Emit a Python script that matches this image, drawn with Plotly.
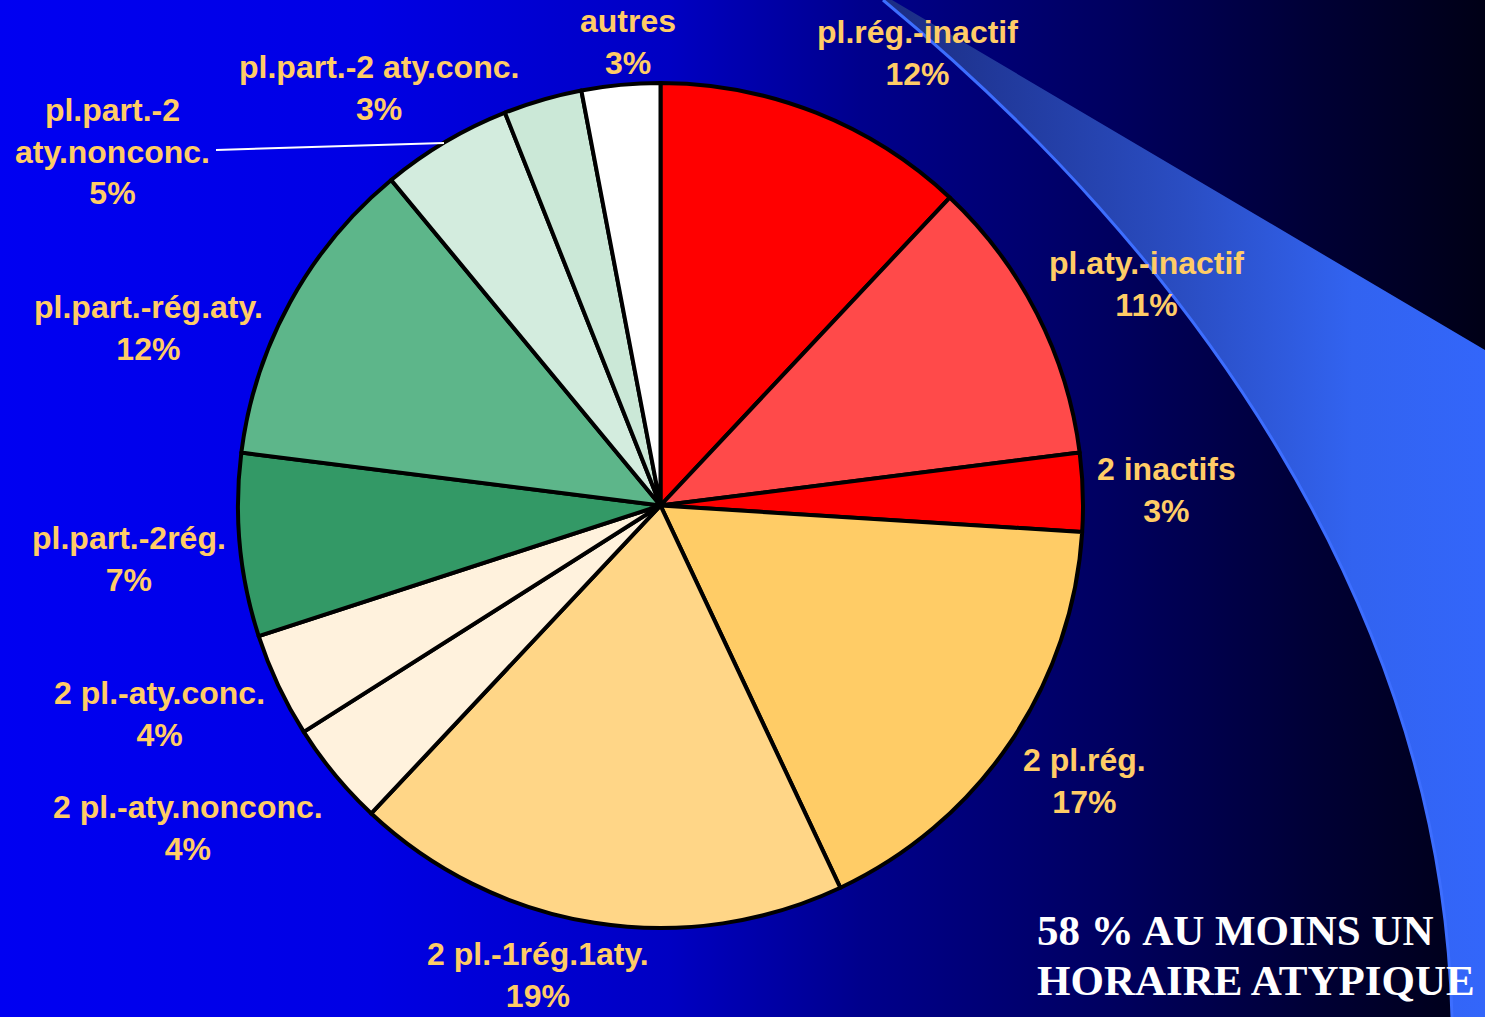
import base64
import numpy as np
import plotly.graph_objects as go

# ---------------- data ----------------
categories = [
    "pl.rég.-inactif", "pl.aty.-inactif", "2 inactifs", "2 pl.rég.",
    "2 pl.-1rég.1aty.", "2 pl.-aty.nonconc.", "2 pl.-aty.conc.",
    "pl.part.-2rég.", "pl.part.-rég.aty.", "pl.part.-2 aty.nonconc.",
    "pl.part.-2 aty.conc.", "autres",
]
shares = [12, 11, 3, 17, 19, 4, 4, 7, 12, 5, 3, 3]
summary_lines = ["58 % AU MOINS UN", "HORAIRE ATYPIQUE"]

# ---------------- styles ----------------
slice_colors = [
    "#FF0000", "#FF4A4A", "#FF0000", "#FFCC66", "#FFD687", "#FFF2DD",
    "#FFF2DD", "#339966", "#5DB68A", "#D3ECDE", "#CBE8D7", "#FFFFFF",
]
W, H = 1485, 1017
# label block centres (pixels) – layout only
label_pos = [
    (917, 53), (1146, 284), (1166, 490), (1084, 781), (538, 975), (188, 828),
    (159, 714), (129, 559), (148, 328), (113, 151), (379, 88), (628, 42),
]
wrap_first_space = {"pl.part.-2 aty.nonconc."}

# ---------------- background (gradient + swoosh) as SVG image ----------------
arc_pts = np.array([(883, 0), (927, 43), (1027, 133), (1093, 207), (1162, 266),
                    (1250, 410), (1310, 513), (1370, 620), (1422, 800), (1452, 1017)],
                   dtype=float)
# least-squares cubic Bezier through the traced edge (smooth curve)
seg = np.sqrt((np.diff(arc_pts, axis=0) ** 2).sum(axis=1))
t = np.concatenate([[0], np.cumsum(seg)]) / seg.sum()
P0, P3 = arc_pts[0], arc_pts[-1]
b0, b1, b2, b3 = (1 - t) ** 3, 3 * (1 - t) ** 2 * t, 3 * (1 - t) * t ** 2, t ** 3
A = np.stack([b1, b2], axis=1)
rhs = arc_pts - np.outer(b0, P0) - np.outer(b3, P3)
sol, *_ = np.linalg.lstsq(A, rhs, rcond=None)
P1, P2 = sol
arc_d = (f"M{P0[0]:.1f},{P0[1]:.1f} C{P1[0]:.1f},{P1[1]:.1f} "
         f"{P2[0]:.1f},{P2[1]:.1f} {P3[0]:.1f},{P3[1]:.1f}")

svg = f'''<svg xmlns="http://www.w3.org/2000/svg" width="{W}" height="{H}" viewBox="0 0 {W} {H}">
<defs>
<linearGradient id="bg" x1="0" y1="0" x2="{W}" y2="0" gradientUnits="userSpaceOnUse">
<stop offset="0" stop-color="rgb(0,0,242)"/>
<stop offset="0.25" stop-color="rgb(0,0,228)"/>
<stop offset="0.45" stop-color="rgb(0,0,195)"/>
<stop offset="0.58" stop-color="rgb(0,0,140)"/>
<stop offset="0.75" stop-color="rgb(0,0,95)"/>
<stop offset="0.88" stop-color="rgb(0,0,55)"/>
<stop offset="1" stop-color="rgb(0,0,22)"/>
</linearGradient>
<linearGradient id="sw" x1="880" y1="0" x2="1485" y2="0" gradientUnits="userSpaceOnUse">
<stop offset="0" stop-color="#1B2C82"/>
<stop offset="0.5" stop-color="#2A4DC2"/>
<stop offset="0.78" stop-color="#3263F0"/>
<stop offset="1" stop-color="#3366FA"/>
</linearGradient>
</defs>
<rect x="0" y="0" width="{W}" height="{H}" fill="url(#bg)"/>
<path d="{arc_d} L{W},{H} L{W},350 L892,0 Z" fill="url(#sw)"/>
<path d="{arc_d}" fill="none" stroke="#3D6EFF" stroke-width="3"/>
</svg>'''
uri = "data:image/svg+xml;base64," + base64.b64encode(svg.encode("utf-8")).decode("ascii")

# ---------------- figure ----------------
cx, cy, r = 660.5, 505.5, 422.5
fig = go.Figure(go.Pie(
    labels=categories, values=shares, sort=False, direction="clockwise",
    rotation=0, textinfo="none", hoverinfo="label+percent",
    marker=dict(colors=slice_colors, line=dict(color="black", width=4)),
    domain=dict(x=[(cx - r) / W, (cx + r) / W], y=[(H - cy - r) / H, (H - cy + r) / H]),
    showlegend=False,
))

total = sum(shares)
annotations = []
for cat, v, (px, py) in zip(categories, shares, label_pos):
    name = cat.replace(" ", "<br>", 1) if cat in wrap_first_space else cat
    pct = round(v / total * 100)
    annotations.append(dict(
        x=px / W, y=1 - py / H, xref="paper", yref="paper",
        xanchor="center", yanchor="middle", showarrow=False,
        text=f"{name}<br>{pct}%", align="center",
        font=dict(family="Liberation Sans, Arial, sans-serif", size=32,
                  color="#FFCC66", weight="bold"),
    ))
for line, py in zip(summary_lines, [930, 980]):
    annotations.append(dict(
        x=1035 / W, y=1 - py / H, xref="paper", yref="paper",
        xanchor="left", yanchor="middle", showarrow=False, text=line,
        font=dict(family="Liberation Serif, Times New Roman, serif", size=43,
                  color="white", weight="bold"),
    ))

fig.update_layout(
    width=W, height=H, autosize=False,
    margin=dict(l=0, r=0, t=0, b=0, pad=0),
    paper_bgcolor="#0000B0", plot_bgcolor="rgba(0,0,0,0)",
    images=[dict(source=uri, xref="paper", yref="paper", x=0, y=1,
                 sizex=1, sizey=1, xanchor="left", yanchor="top",
                 sizing="stretch", layer="below")],
    annotations=annotations,
    shapes=[dict(type="line", xref="paper", yref="paper",
                 x0=216 / W, y0=1 - 150 / H, x1=444 / W, y1=1 - 143 / H,
                 line=dict(color="white", width=2))],
)

fig.write_html("out.html", config={"displayModeBar": False},
               post_script="document.body.style.margin='0';document.body.style.overflow='hidden';")
